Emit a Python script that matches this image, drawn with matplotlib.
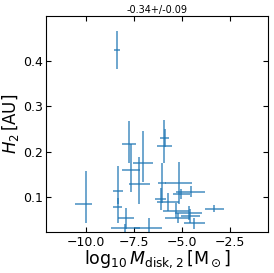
import matplotlib
matplotlib.use("Agg")
import matplotlib.pyplot as plt
import numpy as np

# log10 disk mass and H2 values with asymmetric errors
x = [-8.39, -10.0, -7.76, -5.90, -5.91, -7.03, -7.66, -7.22, -8.35, -8.35,
     -7.90, -7.95, -6.74, -5.17, -5.02, -4.54, -6.04, -6.10, -5.72, -5.30,
     -4.65, -5.22, -4.55, -4.35, -3.30]
y = [0.426, 0.083, 0.216, 0.2305, 0.213, 0.175, 0.159, 0.128, 0.113, 0.077,
     0.052, 0.030, 0.030, 0.131, 0.106, 0.111, 0.131, 0.095, 0.088, 0.069,
     0.064, 0.053, 0.057, 0.041, 0.074]
xerr_lo = [0.17, 0.61, 0.35, 0.24, 0.39, 0.52, 0.45, 0.56, 0.26, 0.24,
           0.42, 0.74, 0.70, 0.69, 0.45, 0.75, 0.23, 0.28, 0.59, 0.67,
           0.72, 0.65, 0.50, 0.55, 0.49]
xerr_hi = [0.17, 0.31, 0.35, 0.24, 0.39, 0.52, 0.45, 0.56, 0.26, 0.24,
           0.42, 0.74, 0.70, 0.69, 0.45, 0.75, 0.23, 0.28, 0.59, 0.67,
           0.72, 0.65, 0.50, 0.55, 0.49]
yerr_lo = [0.042, 0.042, 0.042, 0.020, 0.039, 0.042, 0.048, 0.044, 0.030, 0.035,
           0.024, 0.010, 0.024, 0.046, 0.011, 0.012, 0.044, 0.024, 0.020, 0.017,
           0.015, 0.011, 0.015, 0.013, 0.007]
yerr_hi = [0.042, 0.074, 0.052, 0.020, 0.057, 0.071, 0.059, 0.060, 0.055, 0.020,
           0.024, 0.010, 0.024, 0.046, 0.011, 0.012, 0.044, 0.024, 0.020, 0.017,
           0.015, 0.011, 0.015, 0.013, 0.007]
title = "-0.34+/-0.09"

fig = plt.figure(figsize=(2.74, 2.73), dpi=100)
ax = fig.add_axes([0.168, 0.150, 0.810, 0.791])
ax.errorbar(x, y, xerr=[xerr_lo, xerr_hi], yerr=[yerr_lo, yerr_hi],
            ls="none", color="C0", elinewidth=1.4, capsize=0, alpha=0.65)
ax.set_xlim(-12.1, -0.5)
ax.set_ylim(0.022, 0.50)
ax.set_xticks([-10.0, -7.5, -5.0, -2.5])
ax.set_yticks([0.1, 0.2, 0.3, 0.4])
ax.tick_params(direction="in", top=True, right=True, labelsize=9, length=3.5, pad=2.5)
ax.set_xlabel(r"$\log_{10}M_{\rm disk,2}\,[\mathrm{M}_\odot]$", fontsize=12.5, labelpad=0)
ax.set_ylabel(r"$H_2\,[\mathrm{AU}]$", fontsize=12, labelpad=1)
ax.set_title(title, fontsize=7, pad=2)
fig.savefig("out.png", dpi=100)
